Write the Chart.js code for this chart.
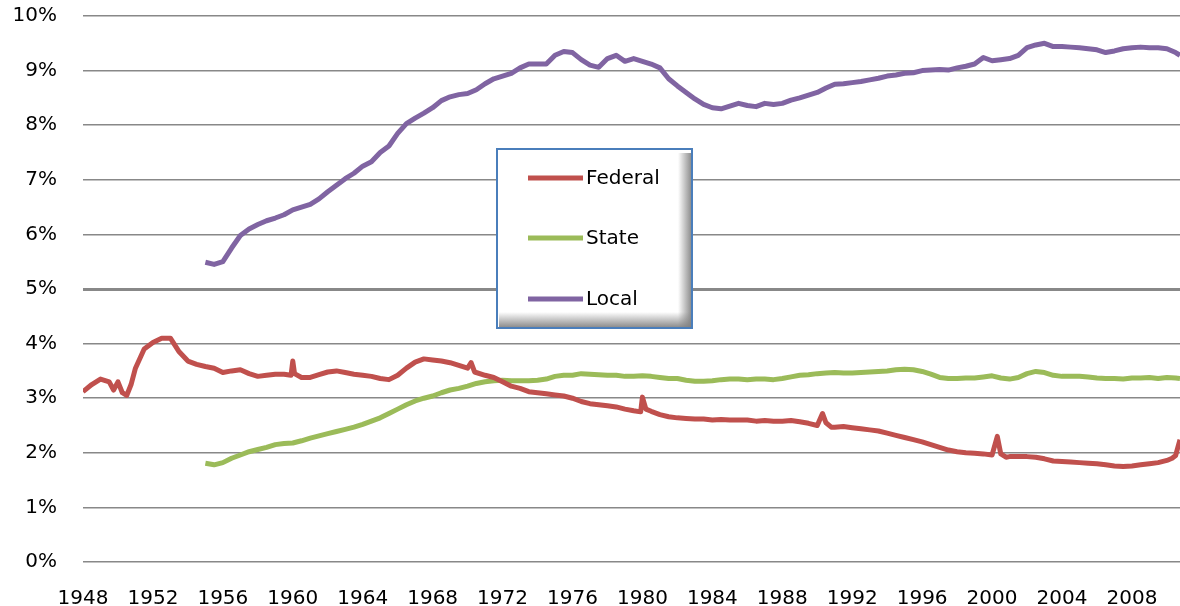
<!DOCTYPE html>
<html lang="en">
<head>
<meta charset="utf-8">
<title>Federal, State, Local</title>
<script src="https://cdn.jsdelivr.net/npm/chart.js@4.4.1/dist/chart.umd.min.js"></script>
<style>
    html, body { margin: 0; padding: 0; background: #ffffff; }
    #wrap { position: relative; width: 1180px; height: 606px; }
</style>
</head>
<body>
<div id="wrap"><canvas id="partChart"></canvas></div>
<script>
// Données (valeurs en %)

const seriesNames = ['Federal', 'State', 'Local'];
const seriesColors = ['#C0504D', '#9BBB59', '#8064A2'];

const xTickYears = [1948, 1952, 1956, 1960, 1964, 1968, 1972, 1976, 1980, 1984, 1988, 1992, 1996, 2000, 2004, 2008];
const yTickValues = [0, 1, 2, 3, 4, 5, 6, 7, 8, 9, 10];

// Federal : depuis 1948
const federalYears = [
    1948.0, 1948.5, 1949.0, 1949.5, 1949.75, 1950.0, 1950.25, 1950.5, 1950.75, 1951.0,
    1951.5, 1952.0, 1952.5, 1953.0, 1953.5, 1954.0, 1954.5, 1955.0, 1955.5, 1956.0,
    1956.5, 1957.0, 1957.5, 1958.0, 1958.5, 1959.0, 1959.5, 1959.9, 1960.0, 1960.1,
    1960.5, 1961.0, 1961.5, 1962.0, 1962.5, 1963.0, 1963.5, 1964.0, 1964.5, 1965.0,
    1965.5, 1966.0, 1966.5, 1967.0, 1967.5, 1968.0, 1968.5, 1969.0, 1969.5, 1970.0,
    1970.2, 1970.4, 1971.0, 1971.5, 1972.0, 1972.5, 1973.0, 1973.5, 1974.0, 1974.5,
    1975.0, 1975.5, 1976.0, 1976.5, 1977.0, 1977.5, 1978.0, 1978.5, 1979.0, 1979.5,
    1979.9, 1980.0, 1980.2, 1980.5, 1981.0, 1981.5, 1982.0, 1982.5, 1983.0, 1983.5,
    1984.0, 1984.5, 1985.0, 1985.5, 1986.0, 1986.5, 1987.0, 1987.5, 1988.0, 1988.5,
    1989.0, 1989.5, 1990.0, 1990.3, 1990.5, 1990.8, 1991.0, 1991.5, 1992.0, 1992.5,
    1993.0, 1993.5, 1994.0, 1994.5, 1995.0, 1995.5, 1996.0, 1996.5, 1997.0, 1997.5,
    1998.0, 1998.5, 1999.0, 1999.5, 2000.0, 2000.3, 2000.5, 2000.8, 2001.0, 2001.5,
    2002.0, 2002.5, 2003.0, 2003.5, 2004.0, 2004.5, 2005.0, 2005.5, 2006.0, 2006.5,
    2007.0, 2007.5, 2008.0, 2008.5, 2009.0, 2009.5, 2010.0, 2010.3, 2010.5, 2010.75
];
const federalValues = [
    3.12, 3.25, 3.35, 3.30, 3.15, 3.30, 3.10, 3.05, 3.25, 3.55,
    3.90, 4.02, 4.10, 4.10, 3.85, 3.68, 3.62, 3.58, 3.55, 3.47,
    3.50, 3.52, 3.45, 3.40, 3.42, 3.44, 3.44, 3.42, 3.68, 3.45,
    3.38, 3.38, 3.43, 3.48, 3.50, 3.47, 3.44, 3.42, 3.40, 3.36,
    3.34, 3.42, 3.55, 3.66, 3.72, 3.70, 3.68, 3.65, 3.60, 3.55,
    3.65, 3.48, 3.42, 3.38, 3.30, 3.22, 3.18, 3.12, 3.10, 3.08,
    3.06, 3.04, 3.00, 2.94, 2.90, 2.88, 2.86, 2.84, 2.80, 2.77,
    2.75, 3.02, 2.80, 2.76, 2.70, 2.66, 2.64, 2.63, 2.62, 2.62,
    2.60, 2.61, 2.60, 2.60, 2.60, 2.58, 2.59, 2.58, 2.58, 2.59,
    2.57, 2.54, 2.50, 2.72, 2.55, 2.47, 2.47, 2.48, 2.46, 2.44,
    2.42, 2.40, 2.36, 2.32, 2.28, 2.24, 2.20, 2.15, 2.10, 2.05,
    2.02, 2.00, 1.99, 1.98, 1.96, 2.30, 1.98, 1.92, 1.93, 1.93,
    1.93, 1.92, 1.89, 1.85, 1.84, 1.83, 1.82, 1.81, 1.80, 1.78,
    1.76, 1.75, 1.76, 1.78, 1.80, 1.82, 1.86, 1.90, 1.95, 2.24
];

// State et Local : depuis 1955
const stateLocalYears = [
    1955.0, 1955.5, 1956.0, 1956.5, 1957.0, 1957.5, 1958.0, 1958.5, 1959.0, 1959.5,
    1960.0, 1960.5, 1961.0, 1961.5, 1962.0, 1962.5, 1963.0, 1963.5, 1964.0, 1964.5,
    1965.0, 1965.5, 1966.0, 1966.5, 1967.0, 1967.5, 1968.0, 1968.5, 1969.0, 1969.5,
    1970.0, 1970.5, 1971.0, 1971.5, 1972.0, 1972.5, 1973.0, 1973.5, 1974.0, 1974.5,
    1975.0, 1975.5, 1976.0, 1976.5, 1977.0, 1977.5, 1978.0, 1978.5, 1979.0, 1979.5,
    1980.0, 1980.5, 1981.0, 1981.5, 1982.0, 1982.5, 1983.0, 1983.5, 1984.0, 1984.5,
    1985.0, 1985.5, 1986.0, 1986.5, 1987.0, 1987.5, 1988.0, 1988.5, 1989.0, 1989.5,
    1990.0, 1990.5, 1991.0, 1991.5, 1992.0, 1992.5, 1993.0, 1993.5, 1994.0, 1994.5,
    1995.0, 1995.5, 1996.0, 1996.5, 1997.0, 1997.5, 1998.0, 1998.5, 1999.0, 1999.5,
    2000.0, 2000.5, 2001.0, 2001.5, 2002.0, 2002.5, 2003.0, 2003.5, 2004.0, 2004.5,
    2005.0, 2005.5, 2006.0, 2006.5, 2007.0, 2007.5, 2008.0, 2008.5, 2009.0, 2009.5,
    2010.0, 2010.5, 2010.75
];
const stateValues = [
    1.81, 1.78, 1.82, 1.90, 1.96, 2.02, 2.06, 2.10, 2.15, 2.17,
    2.18, 2.22, 2.27, 2.31, 2.35, 2.39, 2.43, 2.47, 2.52, 2.58,
    2.64, 2.72, 2.80, 2.88, 2.95, 3.00, 3.04, 3.10, 3.15, 3.18,
    3.22, 3.27, 3.30, 3.32, 3.33, 3.32, 3.32, 3.32, 3.33, 3.35,
    3.40, 3.42, 3.42, 3.45, 3.44, 3.43, 3.42, 3.42, 3.40, 3.40,
    3.41, 3.40, 3.38, 3.36, 3.36, 3.33, 3.31, 3.31, 3.32, 3.34,
    3.35, 3.35, 3.34, 3.35, 3.35, 3.34, 3.36, 3.39, 3.42, 3.43,
    3.45, 3.46, 3.47, 3.46, 3.46, 3.47, 3.48, 3.49, 3.50, 3.52,
    3.53, 3.52, 3.49, 3.44, 3.38, 3.36, 3.36, 3.37, 3.37, 3.39,
    3.41, 3.37, 3.35, 3.38, 3.45, 3.49, 3.47, 3.42, 3.40, 3.40,
    3.40, 3.39, 3.37, 3.36, 3.36, 3.35, 3.37, 3.37, 3.38, 3.36,
    3.38, 3.37, 3.36
];
const localValues = [
    5.49, 5.45, 5.50, 5.75, 5.98, 6.10, 6.18, 6.25, 6.30, 6.36,
    6.45, 6.50, 6.55, 6.65, 6.78, 6.90, 7.02, 7.12, 7.25, 7.33,
    7.50, 7.62, 7.85, 8.03, 8.13, 8.22, 8.32, 8.45, 8.52, 8.56,
    8.58, 8.65, 8.76, 8.85, 8.90, 8.95, 9.05, 9.12, 9.12, 9.12,
    9.28, 9.35, 9.33, 9.20, 9.10, 9.06, 9.22, 9.28, 9.17, 9.22,
    9.17, 9.12, 9.05, 8.85, 8.72, 8.60, 8.48, 8.38, 8.32, 8.30,
    8.35, 8.40, 8.36, 8.34, 8.40, 8.38, 8.40, 8.46, 8.50, 8.55,
    8.60, 8.68, 8.75, 8.76, 8.78, 8.80, 8.83, 8.86, 8.90, 8.92,
    8.95, 8.96, 9.00, 9.01, 9.02, 9.01, 9.05, 9.08, 9.12, 9.24,
    9.18, 9.20, 9.22, 9.28, 9.42, 9.47, 9.50, 9.44, 9.44, 9.43,
    9.42, 9.40, 9.38, 9.33, 9.36, 9.40, 9.42, 9.43, 9.42, 9.42,
    9.40, 9.33, 9.28
];

// Transformer deux listes en points {x, y}
function toPoints(xs, ys) {
    return xs.map((x, i) => ({ x: x, y: ys[i] }));
}

// Légende encadrée au milieu du graphique (style Excel)
const legendBoxPlugin = {
    id: 'legendBox',
    afterDraw(chart) {
        const ctx = chart.ctx;
        const bx = 497, by = 149, bw = 195, bh = 179;
        ctx.save();

        ctx.fillStyle = '#ffffff';
        ctx.fillRect(bx, by, bw, bh);

        // Ombre intérieure à droite
        let grad = ctx.createLinearGradient(bx + bw - 14, 0, bx + bw, 0);
        grad.addColorStop(0, 'rgba(128,128,128,0)');
        grad.addColorStop(1, 'rgba(128,128,128,0.95)');
        ctx.fillStyle = grad;
        ctx.fillRect(bx + bw - 14, by + 4, 14, bh - 4);

        // Ombre intérieure en bas
        grad = ctx.createLinearGradient(0, by + bh - 16, 0, by + bh);
        grad.addColorStop(0, 'rgba(128,128,128,0)');
        grad.addColorStop(1, 'rgba(128,128,128,0.95)');
        ctx.fillStyle = grad;
        ctx.fillRect(bx + 2, by + bh - 16, bw - 2, 16);

        ctx.strokeStyle = '#4A7EBB';
        ctx.lineWidth = 2;
        ctx.strokeRect(bx, by, bw, bh);

        // Entrées de la légende
        const rowY = [178, 238, 299];
        ctx.font = '20px "DejaVu Sans", Verdana, sans-serif';
        ctx.textBaseline = 'middle';
        ctx.textAlign = 'left';
        chart.data.datasets.forEach((ds, i) => {
            ctx.strokeStyle = ds.borderColor;
            ctx.lineWidth = 5;
            ctx.lineCap = 'butt';
            ctx.beginPath();
            ctx.moveTo(528, rowY[i]);
            ctx.lineTo(583, rowY[i]);
            ctx.stroke();
            ctx.fillStyle = '#000000';
            ctx.fillText(ds.label, 586, rowY[i] + 1);
        });

        ctx.restore();
    }
};

function buildChart() {
    console.log('Création du graphique...');
    const canvas = document.getElementById('partChart');
    const ctx = canvas.getContext('2d');

    Chart.defaults.font.family = '"DejaVu Sans", Verdana, sans-serif';
    Chart.defaults.font.size = 20;
    Chart.defaults.color = '#000000';

    const datasets = [
        toPoints(federalYears, federalValues),
        toPoints(stateLocalYears, stateValues),
        toPoints(stateLocalYears, localValues)
    ].map((pts, i) => ({
        label: seriesNames[i],
        data: pts,
        borderColor: seriesColors[i],
        backgroundColor: seriesColors[i],
        borderWidth: 5,
        pointRadius: 0,
        tension: 0,
        borderJoinStyle: 'round',
        fill: false
    }));

    const config = {
        type: 'line',
        data: { datasets: datasets },
        options: {
            responsive: true,
            maintainAspectRatio: false,
            animation: false,
            layout: { padding: { top: 16, right: 0, bottom: 0, left: 0 } },
            plugins: {
                legend: { display: false },
                tooltip: { enabled: false }
            },
            scales: {
                x: {
                    type: 'linear',
                    min: 1948,
                    max: 2010.75,
                    grid: { display: false, drawTicks: false },
                    border: { display: false },
                    ticks: {
                        padding: 25,
                        maxRotation: 0,
                        autoSkip: false,
                        callback: value => String(value)
                    },
                    afterBuildTicks: scale => {
                        scale.ticks = xTickYears.map(v => ({ value: v }));
                    },
                    afterFit: scale => {
                        scale.height = 44;
                        scale.paddingLeft = 0;
                        scale.paddingRight = 0;
                    }
                },
                y: {
                    min: 0,
                    max: 10,
                    grid: {
                        drawTicks: false,
                        color: '#888888',
                        lineWidth: c => (c.tick && c.tick.value === 5 ? 3 : 1.5)
                    },
                    border: { display: false },
                    ticks: {
                        padding: 26,
                        callback: value => value + '%'
                    },
                    afterBuildTicks: scale => {
                        scale.ticks = yTickValues.map(v => ({ value: v }));
                    },
                    afterFit: scale => {
                        scale.width = 83;
                        scale.paddingTop = 0;
                        scale.paddingBottom = 0;
                    }
                }
            }
        },
        plugins: [legendBoxPlugin]
    };

    window.partChart = new Chart(ctx, config);
    console.log('Graphique créé');
}

buildChart();
</script>
</body>
</html>
